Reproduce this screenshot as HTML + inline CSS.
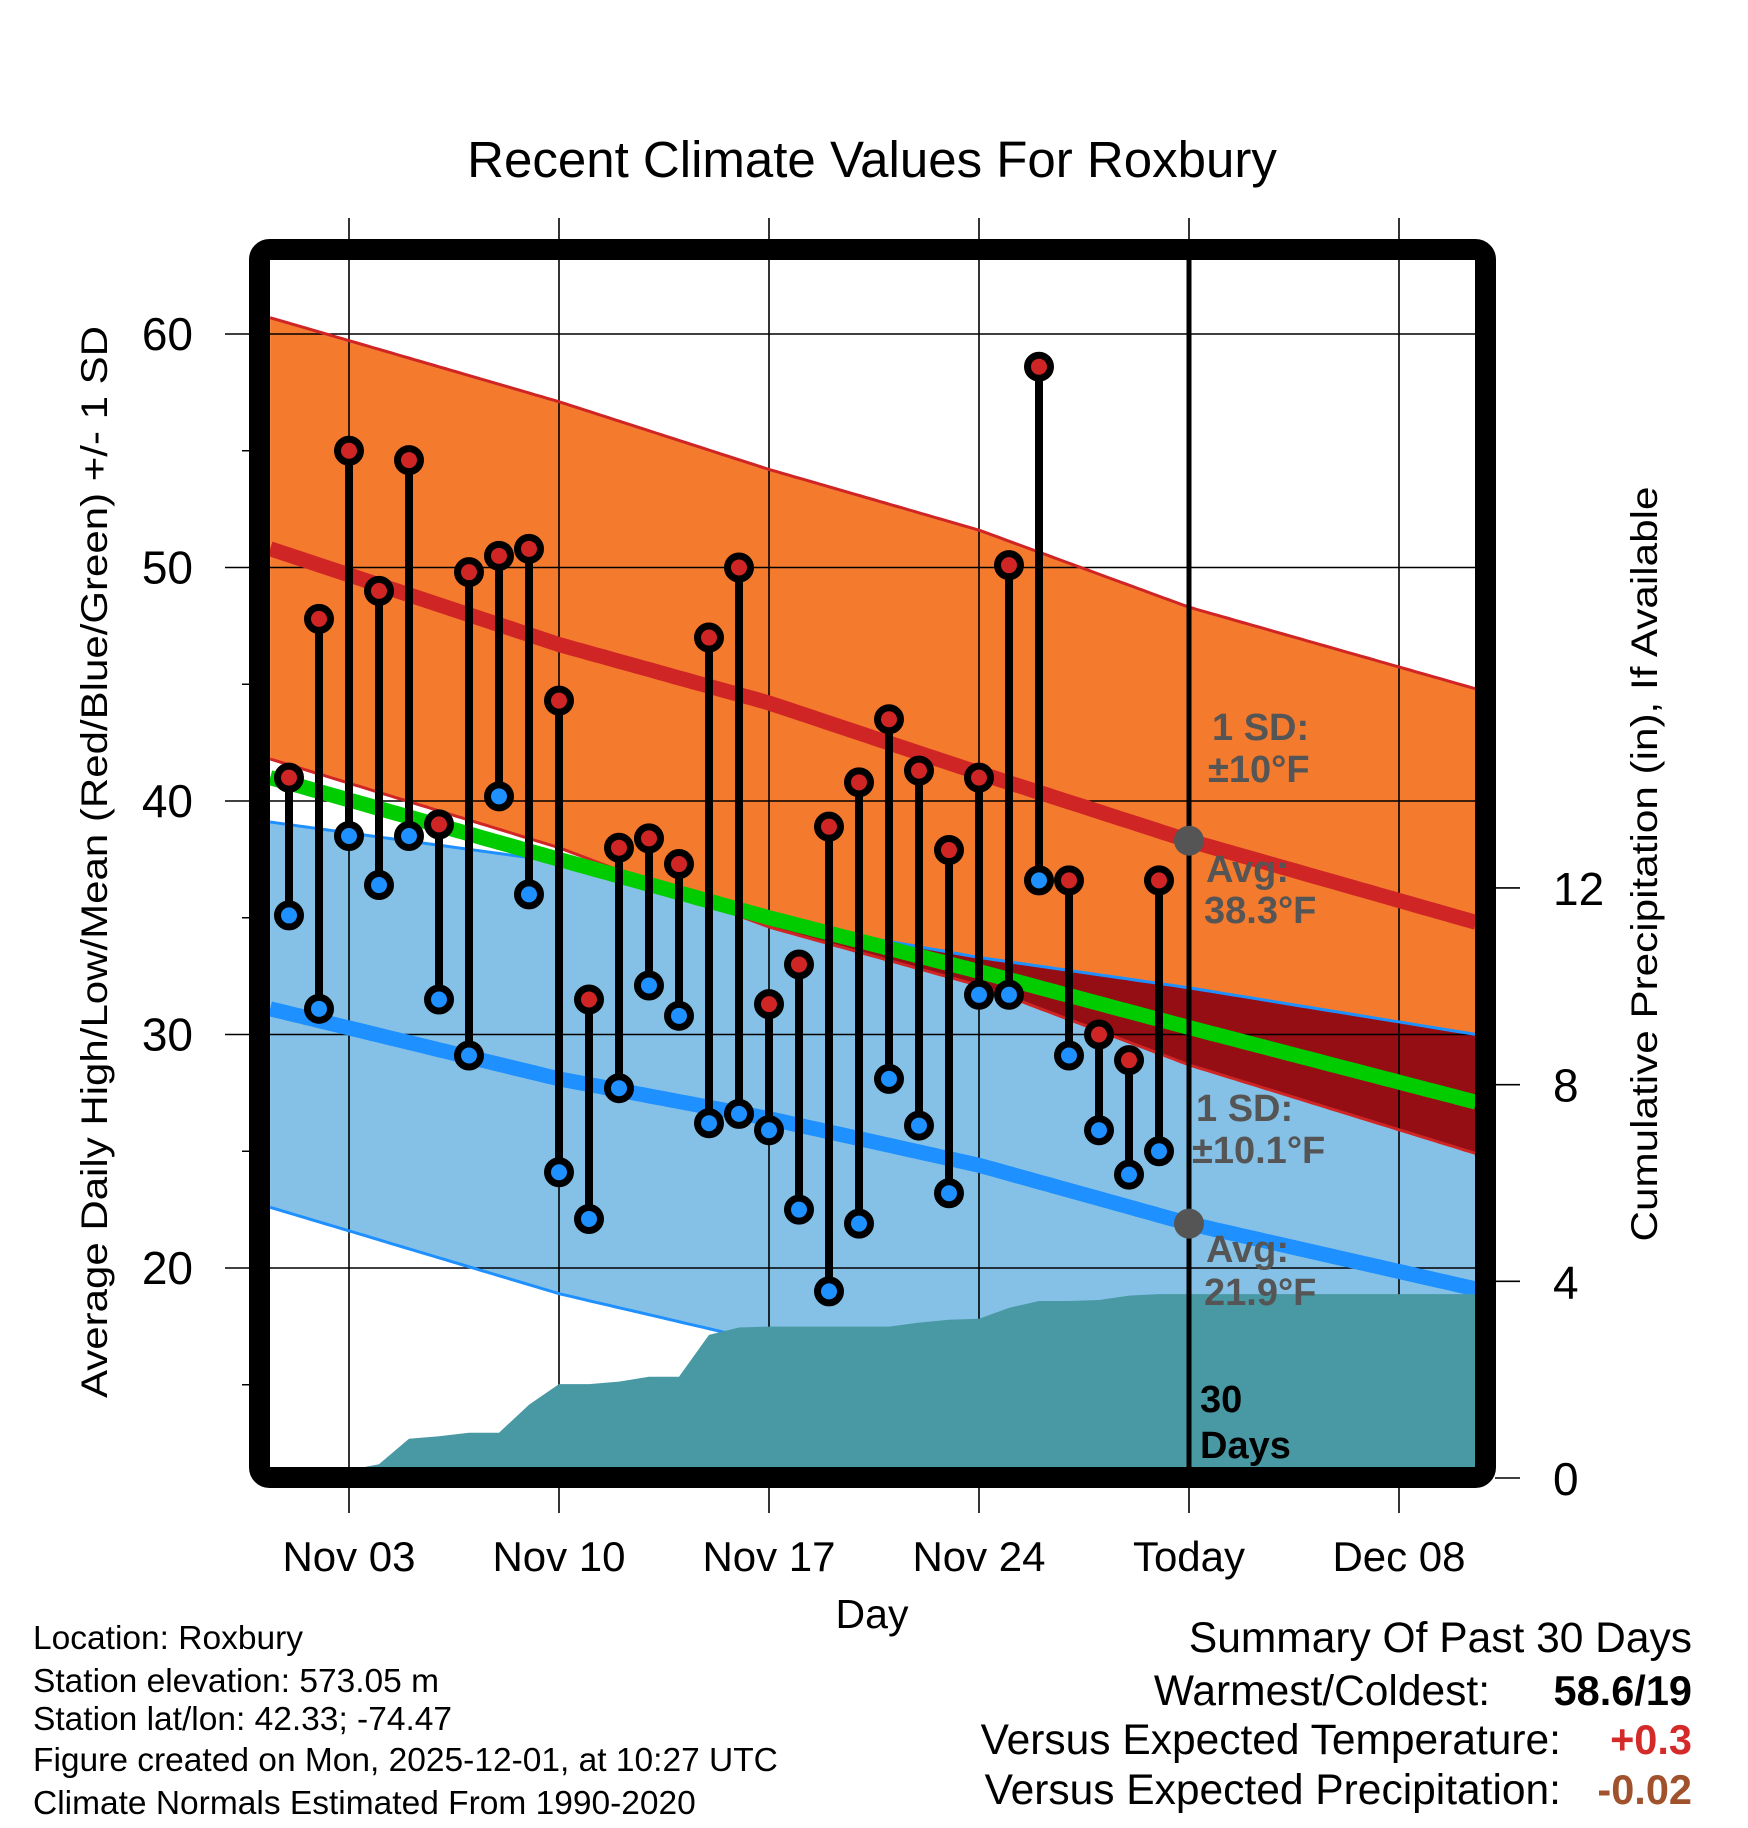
<!DOCTYPE html>
<html><head><meta charset="utf-8"><style>
html,body{margin:0;padding:0;background:#fff;}
svg{display:block;font-family:"Liberation Sans",sans-serif;}
</style></head><body>
<svg id="chart" width="1748" height="1828" viewBox="0 0 1748 1828" xmlns="http://www.w3.org/2000/svg">
<defs><clipPath id="plotclip"><rect x="270" y="260" width="1206" height="1208"/></clipPath></defs>
<rect width="1748" height="1828" fill="#fff"/>
<text x="872" y="177" font-size="51" text-anchor="middle">Recent Climate Values For Roxbury</text>
<g id="bands" clip-path="url(#plotclip)"></g>
<g id="grid"></g>
<g id="lines" clip-path="url(#plotclip)"></g>
<g id="precip" clip-path="url(#plotclip)"></g>
<g id="annot" font-weight="bold" font-size="38" fill="#555">
<text x="1212" y="740">1 SD:</text>
<text x="1208" y="782">±10°F</text>
<text x="1206" y="882">Avg:</text>
<text x="1204" y="923">38.3°F</text>
<text x="1196" y="1121">1 SD:</text>
<text x="1192" y="1163">±10.1°F</text>
<text x="1206" y="1262">Avg:</text>
<text x="1204" y="1305">21.9°F</text>
<text x="1200" y="1412" fill="#000">30</text>
<text x="1200" y="1458" fill="#000">Days</text>
</g>
<g id="today"></g>
<g id="obs"></g>
<rect x="259.5" y="249.5" width="1226" height="1228" fill="none" stroke="#000" stroke-width="21" rx="10"/>
<g id="axes"></g>
<text transform="translate(107,862) rotate(-90)" font-size="37" text-anchor="middle" textLength="1072" lengthAdjust="spacingAndGlyphs">Average Daily High/Low/Mean (Red/Blue/Green) +/- 1 SD</text>
<text transform="translate(1657,864) rotate(-90)" font-size="37" text-anchor="middle" textLength="755" lengthAdjust="spacingAndGlyphs">Cumulative Precipitation (in), If Available</text>
<text x="872" y="1628" font-size="41" text-anchor="middle">Day</text>
<g font-size="33.5">
<text x="33" y="1649">Location: Roxbury</text>
<text x="33" y="1692">Station elevation: 573.05 m</text>
<text x="33" y="1730">Station lat/lon: 42.33; -74.47</text>
<text x="33" y="1771">Figure created on Mon, 2025-12-01, at 10:27 UTC</text>
<text x="33" y="1814">Climate Normals Estimated From 1990-2020</text>
</g>
<g font-size="42.5" text-anchor="end">
<text x="1692" y="1652">Summary Of Past 30 Days</text>
<text x="1490" y="1705">Warmest/Coldest:</text>
<text x="1692" y="1705" font-weight="bold" font-size="41.5">58.6/19</text>
<text x="1561" y="1754">Versus Expected Temperature:</text>
<text x="1692" y="1754" font-weight="bold" font-size="41.5" fill="#d42a2a">+0.3</text>
<text x="1561" y="1804">Versus Expected Precipitation:</text>
<text x="1692" y="1804" font-weight="bold" font-size="41.5" fill="#a0522d">-0.02</text>
</g>
</svg>
<script>
const highs = [41,47.8,55,49,54.6,39,49.8,50.5,50.8,44.3,31.5,38,38.4,37.3,47,50,31.3,33,38.9,40.8,43.5,41.3,37.9,41,50.1,58.6,36.6,30,28.9,36.6];
const lows = [35.1,31.1,38.5,36.4,38.5,31.5,29.1,40.2,36,24.1,22.1,27.7,32.1,30.8,26.2,26.6,25.9,22.5,19,21.9,28.1,26.1,23.2,31.7,31.7,36.6,29.1,25.9,24,25];
const obsDays = [1,2,3,4,5,6,7,8,9,10,11,12,13,14,15,16,17,18,19,20,21,22,23,24,25,26,27,28,29,30];
const precipDays = [3,4,5,6,7,8,9,10,11,12,13,14,15,16,17,18,19,20,21,22,23,24,25,26,27,28,29,30,31];
const precipVals = [0.16,0.28,0.8,0.85,0.92,0.92,1.49,1.91,1.91,1.96,2.06,2.06,2.91,3.06,3.08,3.08,3.08,3.08,3.08,3.16,3.22,3.24,3.46,3.6,3.6,3.62,3.71,3.74,3.74];
const normDays = [0.37,10,17,24,31,40.57];
const highAvg = [50.8,46.7,44.2,41.2,38.3,34.8];
const highPlus = [60.7,57.1,54.2,51.6,48.3,44.8];
const highMinus = [41.8,38.0,34.6,32.1,28.7,24.9];
const lowAvg = [31.1,28.1,26.4,24.4,21.9,19.1];
const lowPlus = [39.1,37.4,34.9,33.3,32.0,30.0];
const lowMinus = [22.6,18.9,16.8,14.5,12.0,9.0];
const meanAvg = [41,37.5,35,32.7,30.3,27.1];
const xTickDays = [3,10,17,24,31,38];
const xTickLabels = ['Nov 03','Nov 10','Nov 17','Nov 24','Today','Dec 08'];
const yTicks = [20,30,40,50,60];
const yMinor = [15,25,35,45,55];
const pTicks = [0,4,8,12];
const todayDay = 31, todayHigh = 38.3, todayLow = 21.9;

const X = d => 349 + (d - 3) * 30;
const Y = t => 334 + (60 - t) * 23.35;
const P = p => 1478 - p * 49.17;
const NS = 'http://www.w3.org/2000/svg';
function mk(tag, attrs, parent){const e=document.createElementNS(NS,tag);for(const k in attrs)e.setAttribute(k,attrs[k]);parent.appendChild(e);return e;}
function interp(arr, d){for(let i=0;i<normDays.length-1;i++){if(d<=normDays[i+1]||i===normDays.length-2){const f=(d-normDays[i])/(normDays[i+1]-normDays[i]);return arr[i]+f*(arr[i+1]-arr[i]);}}}
const samples=[];for(let i=0;i<=200;i++)samples.push(normDays[0]+(normDays[5]-normDays[0])*i/200);
function linePts(arr){return samples.map(d=>X(d).toFixed(1)+','+Y(interp(arr,d)).toFixed(1));}
function bandPts(top,bot){return linePts(top).concat(linePts(bot).reverse()).join(' ');}

const bands=document.getElementById('bands');
let e;
e=mk('polygon',{points:bandPts(lowPlus,lowMinus),fill:'#85c1e6'},bands);


e=mk('polygon',{points:bandPts(highPlus,highMinus),fill:'#f47a2e'},bands);


const ovTop=samples.map(d=>{const a=interp(lowPlus,d),b=interp(highMinus,d);return X(d).toFixed(1)+','+Y(Math.max(a,b)).toFixed(1);});
const ovBot=samples.map(d=>X(d).toFixed(1)+','+Y(interp(highMinus,d)).toFixed(1)).reverse();
e=mk('polygon',{points:ovTop.concat(ovBot).join(' '),fill:'#950e14'},bands);



const grid=document.getElementById('grid');
xTickDays.forEach(d=>{e=mk('line',{x1:X(d),x2:X(d),y1:218,y2:1513,stroke:'#000','stroke-width':1.6},grid);

});
yTicks.forEach(t=>{e=mk('line',{x1:225,x2:1476,y1:Y(t),y2:Y(t),stroke:'#000','stroke-width':1.6},grid);

});

const ln=document.getElementById('lines');
[[highPlus,'#d02525',3,'high-plus-sd-line'],[highMinus,'#d02525',3,'high-minus-sd-line'],[lowPlus,'#1e90ff',3,'low-plus-sd-line'],[lowMinus,'#1e90ff',3,'low-minus-sd-line'],[meanAvg,'#00cc00',15,'mean-normal-line'],[highAvg,'#d02525',15,'high-normal-line'],[lowAvg,'#1e90ff',15,'low-normal-line']].forEach(a=>{
e=mk('polyline',{points:linePts(a[0]).join(' '),fill:'none',stroke:a[1],'stroke-width':a[2]},ln);

});

const pr=document.getElementById('precip');
let pp=[X(0)+','+P(0),X(2)+','+P(0)];
precipDays.forEach((d,i)=>pp.push(X(d)+','+P(precipVals[i]).toFixed(1)));
pp.push('1480,'+P(precipVals[precipVals.length-1]).toFixed(1));pp.push('1480,'+P(0));
e=mk('polygon',{points:pp.join(' '),fill:'#4899a4'},pr);



const td=document.getElementById('today');
e=mk('line',{x1:X(todayDay),x2:X(todayDay),y1:255,y2:1468,stroke:'#000','stroke-width':5},td);


[todayHigh,todayLow].forEach(t=>{e=mk('circle',{cx:X(todayDay),cy:Y(t),r:15,fill:'#555'},td);

});

const ob=document.getElementById('obs');
obsDays.forEach((d,i)=>{
e=mk('line',{x1:X(d),x2:X(d),y1:Y(highs[i]),y2:Y(lows[i]),stroke:'#000','stroke-width':8},ob);


e=mk('circle',{cx:X(d),cy:Y(lows[i]),r:11.5,fill:'#1e90ff',stroke:'#000','stroke-width':7},ob);


e=mk('circle',{cx:X(d),cy:Y(highs[i]),r:11.5,fill:'#d02525',stroke:'#000','stroke-width':7},ob);


});

const ax=document.getElementById('axes');
xTickDays.forEach((d,i)=>{e=mk('text',{x:X(d),y:1571,'font-size':42,'text-anchor':'middle'},ax);e.textContent=xTickLabels[i];

});
yTicks.forEach(t=>{e=mk('text',{x:193,y:Y(t)+16,'font-size':46,'text-anchor':'end'},ax);e.textContent=t;

});
yMinor.forEach(t=>{e=mk('line',{x1:242,x2:250,y1:Y(t),y2:Y(t),stroke:'#000','stroke-width':1.5},ax);

});
pTicks.forEach(p=>{e=mk('line',{x1:1495,x2:1520,y1:P(p),y2:P(p),stroke:'#000','stroke-width':1.6},ax);


e=mk('text',{x:1553,y:P(p)+17,'font-size':46},ax);e.textContent=p;

});
</script>
</body></html>
